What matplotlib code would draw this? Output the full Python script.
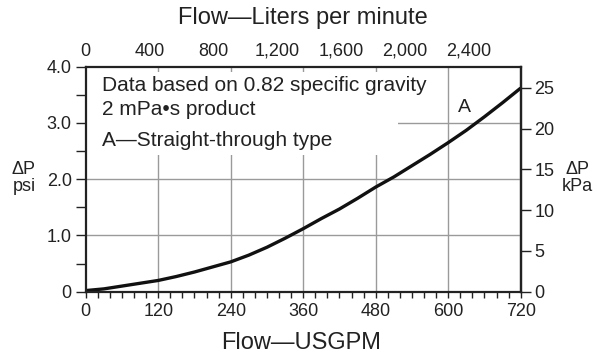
import matplotlib
matplotlib.use("Agg")
import matplotlib.pyplot as plt
from matplotlib.patches import Rectangle
import numpy as np

plt.rcParams['font.family'] = ['Liberation Sans', 'DejaVu Sans']

# Data
flow_gpm = [0, 30, 60, 90, 120, 150, 180, 210, 240, 270, 300, 330, 360,
            390, 420, 450, 480, 510, 540, 570, 600, 630, 660, 690, 720]
dp_psi = [0.02, 0.05, 0.10, 0.15, 0.20, 0.27, 0.35, 0.44, 0.53, 0.65, 0.79, 0.95, 1.12,
          1.30, 1.47, 1.66, 1.86, 2.04, 2.24, 2.44, 2.65, 2.87, 3.11, 3.36, 3.62]

x_ticks = [0, 120, 240, 360, 480, 600, 720]
y_ticks = [0, 1, 2, 3, 4]
y_ticklabels = ["0", "1.0", "2.0", "3.0", "4.0"]
lpm_ticks = [0, 400, 800, 1200, 1600, 2000, 2400]
lpm_labels = ["0", "400", "800", "1,200", "1,600", "2,000", "2,400"]
kpa_ticks = [0, 5, 10, 15, 20, 25]
note_lines = ["Data based on 0.82 specific gravity", "2 mPa\u2022s product", "A\u2014Straight-through type"]

GPM_TO_LPM = 3.78541
PSI_TO_KPA = 6.89476

W, H = 597, 358
fig = plt.figure(figsize=(W / 100, H / 100), dpi=100)
L, R, T, B = 85.7, 520.7, 66.7, 291.7
ax = fig.add_axes([L / W, 1 - B / H, (R - L) / W, (B - T) / H])

dark = '#222222'
grid_c = '#9a9a9a'

ax.set_xlim(0, 720)
ax.set_ylim(0, 4)

# gridlines
for xv in x_ticks[1:-1]:
    ax.axvline(xv, color=grid_c, lw=1.0, zorder=1)
for yv in y_ticks[1:-1]:
    ax.axhline(yv, color=grid_c, lw=1.0, zorder=1)

# white block behind the notes
ax.add_patch(Rectangle((0, 2.43), 517, 1.47, facecolor='white', edgecolor='none', zorder=2))

ax.plot(flow_gpm, dp_psi, color='#111111', lw=2.4, zorder=4, solid_capstyle='butt')

for s in ax.spines.values():
    s.set_color(dark)
    s.set_linewidth(1.6)
    s.set_zorder(5)

ax.set_xticks(x_ticks)
ax.set_xticks(np.arange(0, 721, 20), minor=True)
ax.set_yticks(y_ticks)
ax.set_yticklabels(y_ticklabels)
ax.set_yticks([0.5, 1.5, 2.5, 3.5], minor=True)
ax.tick_params(axis='x', which='both', direction='out', length=4, width=1, color=dark,
               labelsize=13, pad=4, labelcolor='#222222')
ax.tick_params(axis='y', which='both', direction='out', length=7, width=1, color=dark,
               labelsize=13, pad=3, labelcolor='#222222')

# top axis in litres per minute
top = ax.secondary_xaxis('top', functions=(lambda g: g * GPM_TO_LPM, lambda l: l / GPM_TO_LPM))
top.set_xticks(lpm_ticks)
top.set_xticklabels(lpm_labels)
top.tick_params(length=0, labelsize=13, pad=5, labelcolor='#222222')
top.spines['top'].set_visible(False)

# right axis in kPa
right = ax.secondary_yaxis('right', functions=(lambda p: p * PSI_TO_KPA, lambda k: k / PSI_TO_KPA))
right.set_yticks(kpa_ticks)
right.tick_params(direction='out', length=7, width=1, color=dark, labelsize=13, pad=3,
                  labelcolor='#222222')
right.spines['right'].set_color(dark)
right.spines['right'].set_linewidth(1.6)

def px(x, y):
    return x / W, 1 - y / H

# notes
note_base_y = [90.7, 115.0, 145.5]
for txt, yb in zip(note_lines, note_base_y):
    fig.text(*px(102, yb), txt, fontsize=15, va='baseline', ha='left', color='#222222', zorder=6)

fig.text(*px(464, 111.7), "A", fontsize=14, va='baseline', ha='center', color='#222222')

# axis titles
fig.text(*px(303, 18), "Flow\u2014Liters per minute", fontsize=17, ha='center', va='center', color='#222222')
fig.text(*px(301, 343), "Flow\u2014USGPM", fontsize=17, ha='center', va='center', color='#222222')

fig.text(*px(24, 178), "\u0394P\npsi", fontsize=13, ha='center', va='center', ma='center',
         linespacing=0.95, color='#222222')
fig.text(*px(577, 178), "\u0394P\nkPa", fontsize=13, ha='center', va='center', ma='center',
         linespacing=0.95, color='#222222')

fig.savefig("out.png", dpi=100)
